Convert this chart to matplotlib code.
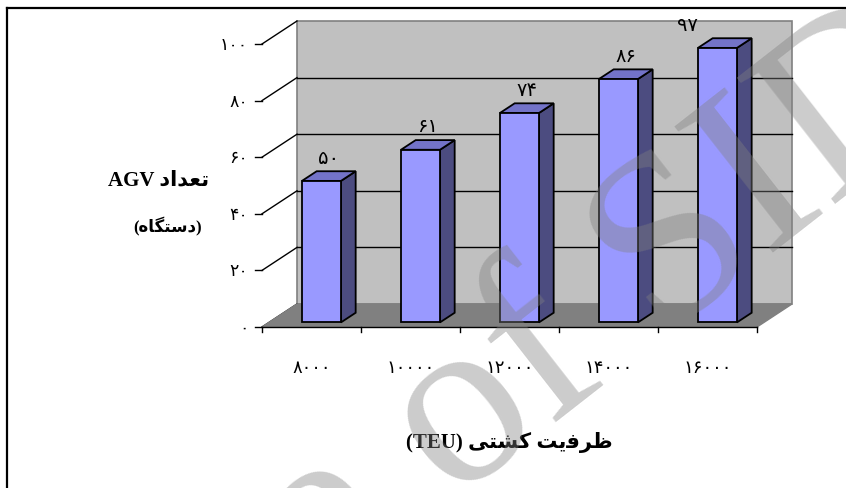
import matplotlib
matplotlib.use("Agg")
import matplotlib.pyplot as plt
from matplotlib.patches import Polygon, Rectangle
from matplotlib.lines import Line2D

# data
capacity = ["۸۰۰۰", "۱۰۰۰۰", "۱۲۰۰۰", "۱۴۰۰۰", "۱۶۰۰۰"]
agv_count = [50, 61, 74, 86, 97]
agv_labels = ["۵۰", "۶۱", "۷۴", "۸۶", "۹۷"]
y_ticks = [0, 20, 40, 60, 80, 100]
y_tick_labels = ["۰", "۲۰", "۴۰", "۶۰", "۸۰", "۱۰۰"]

# persian text written in visual order with presentation forms
ylabel_1 = "AGV " + "\uFEA9\uFE8D\uFEAA\uFECC\uFE97"          # تعداد AGV
ylabel_2 = "(" + "\uFEE9\uFE8E\uFB95\uFE98\uFEB3\uFEA9" + ")"   # (دستگاه)
xlabel = "(TEU) " + "\uFBFD\uFE98\uFEB8\uFB90" + " " + "\uFE96\uFBFE\uFED3\uFEAE\uFEC7"  # ظرفیت کشتی (TEU)

W, H = 846, 489
fig = plt.figure(figsize=(W / 100, H / 100), dpi=100)
ax = fig.add_axes([0, 0, 1, 1])
# 99 px per category, 2.83 px per unit, origin of the plot at pixel (262, 328)
ax.set_xlim(-262 / 99, (W - 262) / 99)
ax.set_ylim((328 - H) / 2.83, 328 / 2.83)
ax.axis("off")

n = len(agv_count)
ymax = 100
ddx, ddy = 35 / 99, 23 / 2.83     # full depth of the 3d box

def dep(f):
    return f * ddx, f * ddy

# back wall and floor
bx, by = dep(1)
ax.add_patch(Rectangle((bx, by), n, ymax, facecolor="#C0C0C0", edgecolor="#808080", lw=1.2, zorder=1))
ax.add_patch(Polygon([(0, 0), (n, 0), (n + bx, by), (bx, by)], closed=True,
                     facecolor="#808080", edgecolor="#808080", lw=1, zorder=2))

# gridlines on back wall and side wall
for v in y_ticks:
    if 0 < v < ymax:
        ax.plot([bx, n + bx], [v + by, v + by], color="black", lw=1, zorder=1.5)
    ax.plot([0, bx], [v, v + by], color="black", lw=1, zorder=1.5)
    ax.plot([-0.07, 0], [v, v], color="black", lw=1, zorder=3)

ax.plot([0, n], [0, 0], color="black", lw=1, zorder=3)
for i in range(n + 1):
    ax.plot([i, i], [0, -1.8], color="black", lw=1, zorder=3)

for v, lab in zip(y_ticks, y_tick_labels):
    ax.text(-0.14, v, lab, ha="right", va="center", fontsize=12.5, family="DejaVu Sans")

for i, lab in enumerate(capacity):
    ax.text(i + 0.5, -14, lab, ha="center", va="center", fontsize=13, family="DejaVu Sans")

# bars
f0, f1 = 0.2, 0.62
left, bw = 0.333, 0.394
for i, v in enumerate(agv_count):
    x0 = i + left
    ox0, oy0 = dep(f0)
    ox1, oy1 = dep(f1)
    front = [(x0 + ox0, oy0), (x0 + bw + ox0, oy0), (x0 + bw + ox0, v + oy0), (x0 + ox0, v + oy0)]
    side = [(x0 + bw + ox0, oy0), (x0 + bw + ox1, oy1), (x0 + bw + ox1, v + oy1), (x0 + bw + ox0, v + oy0)]
    top = [(x0 + ox0, v + oy0), (x0 + bw + ox0, v + oy0), (x0 + bw + ox1, v + oy1), (x0 + ox1, v + oy1)]
    for pts, col in ((side, "#4C4C80"), (top, "#7373C8"), (front, "#9999FF")):
        ax.add_patch(Polygon(pts, closed=True, facecolor=col, edgecolor="black", lw=1.3, zorder=4 + i))
    lx = x0 + bw / 2 + (ox0 + ox1) / 2
    if i == n - 1:
        lx -= 0.38
    ax.text(lx, v + oy1 + 5, agv_labels[i], ha="center", va="center", fontsize=14,
            family="DejaVu Sans", zorder=10)

# axis titles
ax.text(-1.05, 52, ylabel_1, ha="center", va="center", fontsize=15, fontweight="bold",
        family=["Liberation Serif", "DejaVu Sans"])
ax.text(-0.95, 35.7, ylabel_2, ha="center", va="center", fontsize=12, fontweight="bold",
        family=["Liberation Serif", "DejaVu Sans"])
ax.text(2.5, -40.6, xlabel, ha="center", va="center", fontsize=15, fontweight="bold",
        family=["Liberation Serif", "DejaVu Sans"])

# watermark
wx, wy = 405 / W, 1 - 540 / H
fig.text(wx, wy, "Archive", ha="right", va="baseline", rotation=38,
         rotation_mode="anchor", fontsize=175, family="Liberation Serif", color="#808080",
         alpha=0.4, zorder=20)
fig.text(wx, wy, " of SID", ha="left", va="baseline", rotation=38,
         rotation_mode="anchor", fontsize=175, family="Liberation Serif", color="#808080",
         alpha=0.4, zorder=20)

# page border (top and left only)
fig.add_artist(Line2D([7 / W, 1], [1 - 9 / H, 1 - 9 / H], color="black", lw=1.6))
fig.add_artist(Line2D([7 / W, 7 / W], [0, 1 - 9 / H], color="black", lw=1.6))

fig.savefig("out.png", dpi=100)
